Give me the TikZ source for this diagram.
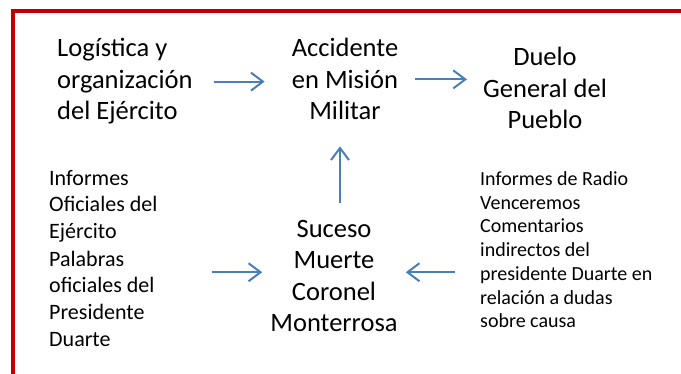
\documentclass[tikz,border=0pt]{standalone}
\usepackage{fontspec}
\setmainfont{Carlito}
\usepackage{xcolor}
\usepackage{tikz}
\usetikzlibrary{arrows.meta, positioning, calc}
\definecolor{marco}{RGB}{192,0,0}
\definecolor{azul}{RGB}{74,126,187}
\tikzstyle{flecha} = [azul, line width=2pt, -{Straight Barb[length=12pt,width=18pt]}]
\tikzset{
  grande/.style={font=\fontsize{26.5}{31.5}\selectfont, inner sep=0pt},
  chico/.style={align=left, inner sep=0pt, anchor=base west},
}

\begin{document}
\begin{tikzpicture}[x=1pt, y=-1pt]
        \useasboundingbox (0,0) rectangle (681,374);
        \clip (0,0) rectangle (681,374);
        \draw[marco, line width=4pt] (13,380) -- (13,11.5) -- (690,11.5);

        % fila de arriba
        \node[grande, align=left, anchor=base west] (log) at (57,120) {Logística y\\organización\\del Ejército};
        \node[grande, align=center, anchor=base] (acc) at (345,120) {Accidente\\en Misión\\Militar};
        \node[grande, align=center, anchor=base] (due) at (545,129) {Duelo\\General del\\Pueblo};

        % fila de abajo
        \node[grande, align=center, anchor=base] (suc) at (334,332) {Suceso\\Muerte\\Coronel\\Monterrosa};
        \node[chico, font=\fontsize{22}{27}\selectfont] (ofi) at (49,347) {Informes\\Oficiales del\\Ejército\\Palabras\\oficiales del\\Presidente\\Duarte};
        \node[chico, font=\fontsize{20}{23.8}\selectfont] (rad) at (480,328) {Informes de Radio\\Venceremos\\Comentarios\\indirectos del\\presidente Duarte en\\relación a dudas\\sobre causa};

        % flechas
        \draw[flecha, shorten <=21pt, shorten >=27pt] (log.east) -- (log.east -| acc.west);
        \draw[flecha, shorten <=17pt, shorten >=16pt] (acc.east) -- (acc.east -| due.west);
        \draw[flecha, shorten <=17pt, shorten >=26pt] ([xshift=6pt]suc.north) -- ([xshift=6pt]suc.north |- acc.south);
        \draw[flecha, shorten <=54pt, shorten >=8pt] ([yshift=4pt]suc.west -| ofi.east) -- ([yshift=4pt]suc.west);
        \draw[flecha, shorten <=25pt, shorten >=8pt] ([yshift=4pt]suc.east -| rad.west) -- ([yshift=4pt]suc.east);
\end{tikzpicture}
\end{document}
